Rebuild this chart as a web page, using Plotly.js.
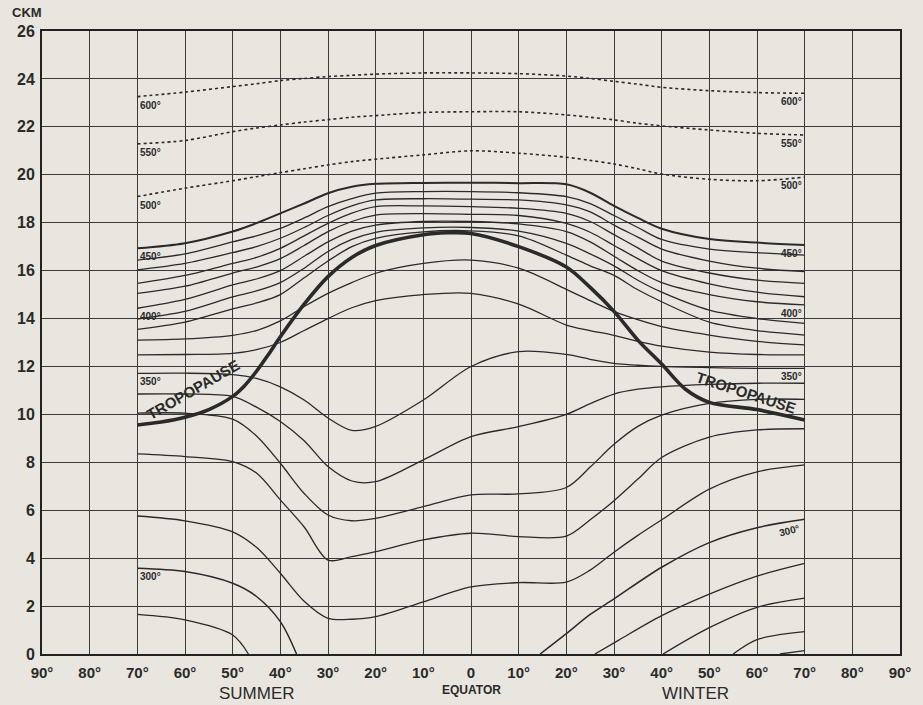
<!DOCTYPE html>
<html>
<head>
<meta charset="utf-8">
<script src="https://cdn.plot.ly/plotly-3.0.1.min.js"></script>
<style>
html,body{margin:0;padding:0;background:#e8e6df;}
#chart{width:923px;height:705px;}
</style>
</head>
<body>
<div id="chart"></div>
<script>
// ---------- DATA (latitude: negative = summer side, positive = winter side; height in km) ----------
const LAT = [-70,-60,-50,-45,-40,-35,-30,-25,-20,-10,0,10,20,25,30,35,40,50,60,70];

// dotted isentropes
const theta600 = [23.26,23.45,23.68,23.8,23.93,24.02,24.1,24.15,24.2,24.25,24.25,24.22,24.12,24.02,23.9,23.78,23.65,23.51,23.43,23.4];
const theta550 = [21.29,21.43,21.8,21.95,22.08,22.2,22.3,22.4,22.47,22.6,22.63,22.63,22.5,22.4,22.29,22.15,22.04,21.87,21.73,21.66];
const theta500 = [19.09,19.44,19.75,19.92,20.09,20.25,20.41,20.55,20.65,20.83,21.0,20.9,20.73,20.6,20.45,20.25,20.03,19.81,19.75,19.9];

// solid isentropes spanning 70 summer to 70 winter
const theta450 = [16.93,17.14,17.63,17.98,18.39,18.8,19.23,19.5,19.62,19.66,19.67,19.65,19.6,19.25,18.7,18.2,17.75,17.32,17.17,17.07];
const theta440 = [16.44,16.7,17.2,17.45,17.76,18.2,18.67,19.0,19.23,19.3,19.3,19.25,19.09,18.8,18.3,17.8,17.3,16.9,16.75,16.65];
const theta430 = [16.03,16.3,16.75,17.0,17.35,17.8,18.3,18.7,18.95,19.0,18.98,18.95,18.74,18.45,17.9,17.4,16.9,16.4,16.1,15.96];
const theta420 = [15.47,15.8,16.3,16.55,16.93,17.45,17.97,18.4,18.67,18.7,18.67,18.6,18.39,18.05,17.5,16.95,16.4,15.9,15.6,15.47];
const theta410 = [15.05,15.35,15.9,16.15,16.5,17.05,17.63,18.05,18.32,18.38,18.35,18.3,17.97,17.6,17.05,16.5,16.0,15.45,15.1,14.91];
const theta400 = [14.43,14.8,15.4,15.65,16.0,16.6,17.2,17.65,17.9,18.05,18.05,17.95,17.63,17.2,16.6,16.0,15.5,15.0,14.7,14.57];
const theta390 = [13.98,14.3,14.9,15.15,15.5,16.1,16.8,17.3,17.6,17.78,17.8,17.65,17.14,16.7,16.2,15.6,15.1,14.35,14.0,13.8];
const theta380 = [13.55,13.85,14.4,14.65,15.0,15.7,16.4,17.0,17.35,17.62,17.66,17.45,16.65,16.2,15.8,15.2,14.7,13.85,13.5,13.31];
const theta370 = [13.1,13.15,13.3,13.5,13.9,14.5,15.05,15.5,15.89,16.3,16.44,16.1,15.22,14.75,14.3,13.95,13.66,13.31,13.05,12.9];
const theta360 = [12.48,12.5,12.55,12.7,13.0,13.5,14.0,14.45,14.75,15.0,15.05,14.6,13.73,13.5,13.3,13.05,12.85,12.6,12.5,12.48];
const theta350 = [11.71,11.72,11.66,11.5,11.15,10.6,9.85,9.33,9.5,10.6,12.0,12.62,12.5,12.3,12.13,12.05,12.0,11.95,11.92,11.92];
const theta340 = [10.85,10.85,10.75,10.3,9.7,8.9,7.82,7.22,7.19,8.1,9.07,9.49,10.0,10.45,10.85,11.05,11.15,11.25,11.3,11.3];
const theta330 = [10.05,10.05,9.8,9.1,7.96,6.7,5.8,5.56,5.66,6.15,6.64,6.68,6.95,7.8,8.75,9.5,9.97,10.46,10.63,10.63];
const theta320 = [8.35,8.24,8.03,7.55,6.43,5.3,3.92,4.06,4.27,4.76,5.04,4.9,4.92,5.6,6.4,7.3,8.2,9.05,9.35,9.4];
const theta310 = [5.76,5.56,5.1,4.45,3.37,2.2,1.49,1.45,1.56,2.18,2.8,2.98,3.0,3.5,4.25,4.95,5.6,6.88,7.6,7.89];

// isentropes meeting the ground
const lat300S = [-70,-60,-50,-45,-40,-36.6];
const theta300S = [3.58,3.44,2.95,2.4,1.35,0];
const lat290S = [-70,-60,-50,-46.7];
const theta290S = [1.65,1.42,0.79,0];
const lat300W = [14.5,20,25,30,40,50,60,70];
const theta300W = [0,0.85,1.65,2.3,3.62,4.65,5.27,5.62];
const lat290W = [26,31,40,50,60,70];
const theta290W = [0,0.58,1.6,2.5,3.25,3.78];
const lat280W = [40.3,50,60,70];
const theta280W = [0,1.1,1.95,2.33];
const lat270W = [55,60,70];
const theta270W = [0,0.6,0.93];
const lat260W = [64.8,70];
const theta260W = [0,0.14];

// tropopause
const tropLat = [-70,-65,-60,-55,-50,-47.5,-45,-42.5,-40,-35,-30,-25,-20,-10,-5,0,10,20,25,30,35,40,45,50,60,70];
const tropH   = [9.56,9.68,9.88,10.2,10.75,11.2,11.8,12.5,13.24,14.6,15.75,16.55,17.05,17.5,17.58,17.55,17.0,16.15,15.3,14.3,13.1,12.1,11.05,10.5,10.2,9.77];

// ticks
const xTickVals = [-90,-80,-70,-60,-50,-40,-30,-20,-10,0,10,20,30,40,50,60,70,80,90];
const xTickText = ['90°','80°','70°','60°','50°','40°','30°','20°','10°','0','10°','20°','30°','40°','50°','60°','70°','80°','90°'];
const yTickVals = [0,2,4,6,8,10,12,14,16,18,20,22,24,26];

// labelled isentropes
const labelNames = ['600°','550°','500°','450°','400°','350°'];
const labelSeries = [theta600,theta550,theta500,theta450,theta400,theta350];

// ---------- DRAW ----------
const INK = '#2a2a2a';
const FONT = 'Liberation Sans, Arial, sans-serif';
const traces = [];
function addLine(x, y, width, dash){
  traces.push({x:x, y:y, type:'scatter', mode:'lines', hoverinfo:'skip', showlegend:false,
    line:{color:INK, width:width, dash:dash||'solid', shape:'spline', smoothing:0.9}});
}
[theta600,theta550,theta500].forEach(s=>addLine(LAT,s,1.6,'dot'));
addLine(LAT,theta450,2.0);
[theta440,theta430,theta420,theta410,theta400,theta390,theta380,theta370,theta360,theta350,theta340,theta330,theta320,theta310]
  .forEach(s=>addLine(LAT,s,1.3));
addLine(lat300S,theta300S,1.5);
addLine(lat290S,theta290S,1.3);
addLine(lat300W,theta300W,1.5);
addLine(lat290W,theta290W,1.3);
addLine(lat280W,theta280W,1.3);
addLine(lat270W,theta270W,1.3);
addLine(lat260W,theta260W,1.3);
addLine(tropLat,tropH,3.6);

const labFont = {family:FONT, size:10, color:INK, weight:'bold'};
const annotations = [];
labelNames.forEach((t,i)=>{
  const s = labelSeries[i];
  annotations.push({x:LAT[0], y:s[0], xref:'x', yref:'y', text:t, showarrow:false, xanchor:'left', yanchor:'top', xshift:1, yshift:-1, font:labFont});
  annotations.push({x:LAT[LAT.length-1], y:s[s.length-1], xref:'x', yref:'y', text:t, showarrow:false, xanchor:'right', yanchor:'top', xshift:-1, yshift:-1, font:labFont});
});
annotations.push({x:lat300S[0], y:theta300S[0], xref:'x', yref:'y', text:'300°', showarrow:false, xanchor:'left', yanchor:'top', xshift:1, yshift:-1, font:labFont});
annotations.push({x:lat300W[lat300W.length-1], y:theta300W[theta300W.length-1], xref:'x', yref:'y', text:'300°', showarrow:false, xanchor:'right', yanchor:'top', xshift:-1, yshift:-1, textangle:-14, font:labFont});

const tropFont = {family:FONT, size:15, color:INK, weight:'bold'};
annotations.push({x:-58.3, y:11.05, xref:'x', yref:'y', text:'TROPOPAUSE', showarrow:false, textangle:-30, font:tropFont});
annotations.push({x:57.6, y:10.9, xref:'x', yref:'y', text:'TROPOPAUSE', showarrow:false, textangle:18, font:tropFont});

annotations.push({x:-0.018, y:1.03, xref:'paper', yref:'paper', text:'CKM', showarrow:false, xanchor:'center', yanchor:'middle',
  font:{family:FONT, size:13, color:INK, weight:'bold'}});
annotations.push({x:-45, y:-0.0635, xref:'x', yref:'paper', text:'SUMMER', showarrow:false, yanchor:'middle',
  font:{family:FONT, size:17, color:INK}});
annotations.push({x:47, y:-0.0635, xref:'x', yref:'paper', text:'WINTER', showarrow:false, yanchor:'middle',
  font:{family:FONT, size:17, color:INK}});
annotations.push({x:0, y:-0.057, xref:'x', yref:'paper', text:'EQUATOR', showarrow:false, yanchor:'middle',
  font:{family:FONT, size:12, color:INK, weight:'bold'}});

const layout = {
  width:923, height:705,
  margin:{l:42, r:23, t:31, b:51},
  paper_bgcolor:'#e8e6df', plot_bgcolor:'#e8e6df',
  showlegend:false,
  xaxis:{range:[-90,90], tickvals:xTickVals, ticktext:xTickText, showgrid:true, gridcolor:'#3a3a3a', gridwidth:1,
    zeroline:false, showline:true, mirror:true, linecolor:'#222', linewidth:2, ticks:'', ticklabelstandoff:4,
    tickfont:{family:FONT, size:15, color:INK, weight:'bold'}, fixedrange:true},
  yaxis:{range:[0,26], tickvals:yTickVals, showgrid:true, gridcolor:'#3a3a3a', gridwidth:1,
    zeroline:false, showline:true, mirror:true, linecolor:'#222', linewidth:2, ticks:'', ticklabelstandoff:2,
    tickfont:{family:FONT, size:16, color:INK, weight:'bold'}, fixedrange:true},
  annotations:annotations
};
Plotly.newPlot('chart', traces, layout, {displayModeBar:false, staticPlot:true});
</script>
</body>
</html>
